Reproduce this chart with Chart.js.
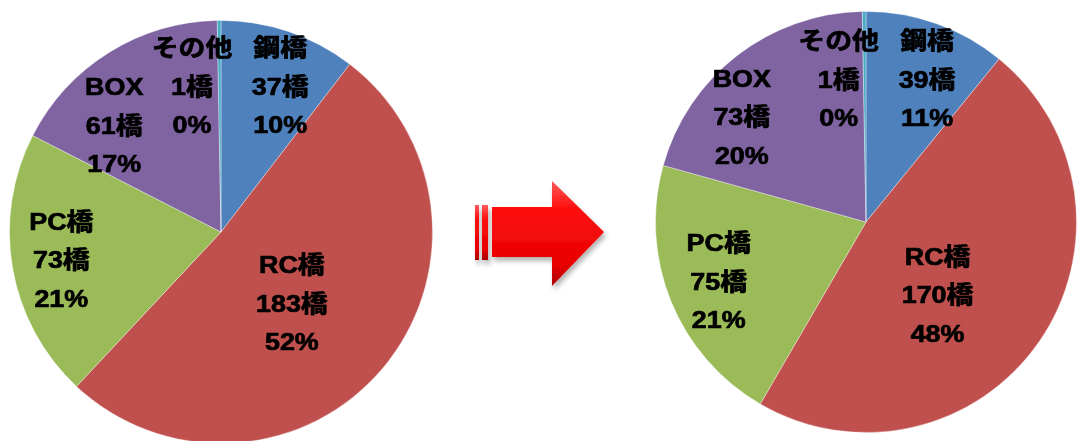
<!DOCTYPE html>
<html lang="ja">
<head>
<meta charset="utf-8">
<script src="https://cdn.jsdelivr.net/npm/chart.js@4/dist/chart.umd.min.js"></script>
<style>
  html, body { margin: 0; padding: 0; background: #fff; }
  body { width: 1077px; height: 441px; position: relative; overflow: hidden; }
  canvas { position: absolute; }
  #antes { left: 9px; top: 20px; }
  #despues { left: 655px; top: 11px; }
  #flecha { position: absolute; left: 470px; top: 176px; }
</style>
</head>
<body>
<canvas id="antes" width="424" height="424"></canvas>
<canvas id="despues" width="422" height="422"></canvas>

<svg id="flecha" width="145" height="120" viewBox="470 176 145 120">
  <defs>
    <linearGradient id="rojo" x1="0" y1="0" x2="0" y2="1">
      <stop offset="0" stop-color="#ff5a5a"/>
      <stop offset="0.25" stop-color="#ff1010"/>
      <stop offset="0.8" stop-color="#e80000"/>
      <stop offset="1" stop-color="#a80000"/>
    </linearGradient>
    <filter id="sombra" x="-10%" y="-10%" width="130%" height="140%">
      <feDropShadow dx="2" dy="4" stdDeviation="2.5" flood-color="#000" flood-opacity="0.3"/>
    </filter>
  </defs>
  <g filter="url(#sombra)" fill="url(#rojo)">
    <rect x="475" y="205" width="4" height="55"/>
    <rect x="482" y="205" width="6" height="55"/>
    <polygon points="492,207 552,207 552,181 604,232 552,286 552,257 492,257"/>
  </g>
</svg>

<script>
// datos de los dos años
const categorias = ["鋼橋", "RC橋", "PC橋", "BOX", "その他"];
const puentesAntes = [37, 183, 73, 61, 1];
const puentesDespues = [39, 170, 75, 73, 1];
const colores = ["#4F81BD", "#C0504D", "#9BBB59", "#8064A2", "#4BACC6"];

// posición de cada etiqueta, en fracciones del radio desde el centro
const posAntes = [[0.28, -0.68], [0.335, 0.345], [-0.755, 0.14], [-0.505, -0.495], [-0.137, -0.68]];
const posDespues = [[0.29, -0.67], [0.34, 0.355], [-0.70, 0.29], [-0.59, -0.49], [-0.13, -0.67]];

// porcentajes enteros que suman 100 (resto mayor, como Excel)
function porcentajes(valores) {
  const total = valores.reduce((a, b) => a + b, 0);
  const exactos = valores.map(v => v / total * 100);
  const enteros = exactos.map(Math.floor);
  let falta = 100 - enteros.reduce((a, b) => a + b, 0);
  const orden = exactos
    .map((v, i) => [v - Math.floor(v), i])
    .sort((a, b) => b[0] - a[0]);
  for (let k = 0; k < falta; k++) enteros[orden[k][1]]++;
  return enteros;
}

const etiquetas = {
  id: "etiquetas",
  afterDatasetsDraw(chart, args, opts) {
    const ctx = chart.ctx;
    const valores = chart.data.datasets[0].data;
    const pct = porcentajes(valores);
    const arcos = chart.getDatasetMeta(0).data;

    ctx.save();
    ctx.fillStyle = "#000";
    ctx.strokeStyle = "#000";
    ctx.lineWidth = 0.7;
    ctx.font = 'bold 24px "Liberation Sans", "Noto Sans CJK JP", sans-serif';
    ctx.textAlign = "center";
    ctx.textBaseline = "middle";

    arcos.forEach((arco, i) => {
      const r = arco.outerRadius;
      const x = arco.x + opts.pos[i][0] * r;
      const y = arco.y + opts.pos[i][1] * r;
      const lineas = [
        chart.data.labels[i],
        valores[i] + "橋",
        pct[i] + "%"
      ];
      lineas.forEach((texto, j) => {
        ctx.save();
        ctx.translate(x, y + (j - 1) * 38.5);
        ctx.scale(1.12, 1);
        ctx.fillText(texto, 0, 0);
        ctx.strokeText(texto, 0, 0);
        ctx.restore();
      });
    });
    ctx.restore();
  }
};

function crearPastel(id, valores, pos) {
  return new Chart(document.getElementById(id), {
    type: "pie",
    data: {
      labels: categorias,
      datasets: [{
        data: valores,
        backgroundColor: colores,
        borderColor: "rgba(255,255,255,0.35)",
        borderWidth: 1
      }]
    },
    options: {
      responsive: false,
      animation: false,
      layout: { padding: 0 },
      plugins: {
        legend: { display: false },
        tooltip: { enabled: false },
        etiquetas: { pos: pos }
      }
    },
    plugins: [etiquetas]
  });
}

crearPastel("antes", puentesAntes, posAntes);
crearPastel("despues", puentesDespues, posDespues);
</script>
</body>
</html>
